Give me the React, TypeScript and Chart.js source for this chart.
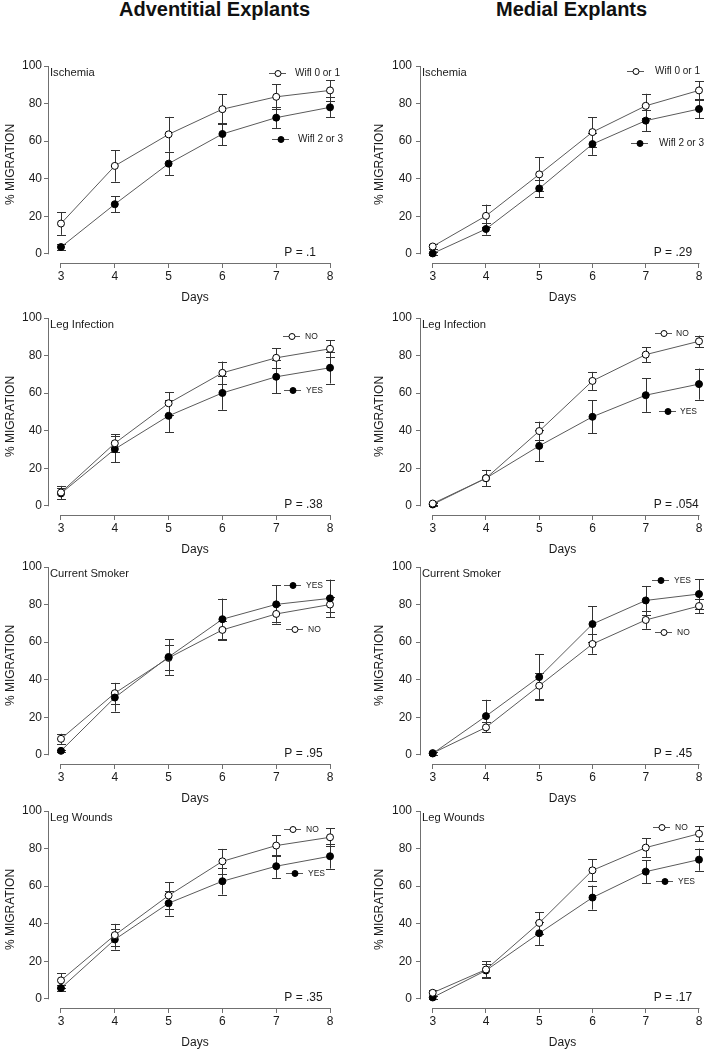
import React, { useEffect, useRef } from "react";
import { Chart, registerables } from "chart.js";

Chart.register(...registerables);

// ---------- data ----------
const days = [3, 4, 5, 6, 7, 8];
const yTickValues = [0, 20, 40, 60, 80, 100];
const xTickValues = [3, 4, 5, 6, 7, 8];

// Adventitial – Ischemia
const advIschemiaLow = [16.1, 46.8, 63.6, 77.0, 83.6, 87.0];
const advIschemiaLowErr = [6.0, 8.4, 9.3, 8.0, 6.6, 5.5];
const advIschemiaHigh = [3.6, 26.4, 48.0, 63.8, 72.5, 78.0];
const advIschemiaHighErr = [1.5, 4.3, 6.0, 6.0, 5.5, 5.4];
// Medial – Ischemia
const medIschemiaLow = [3.9, 20.2, 42.3, 64.8, 78.8, 87.0];
const medIschemiaLowErr = [1.5, 6.0, 9.0, 8.0, 6.4, 4.8];
const medIschemiaHigh = [0.2, 13.2, 34.8, 58.4, 70.9, 77.1];
const medIschemiaHighErr = [0.8, 3.0, 4.6, 5.7, 5.5, 5.0];
// Adventitial – Leg Infection
const advInfectionNo = [7.1, 33.3, 54.6, 70.8, 78.8, 83.6];
const advInfectionNoErr = [3.5, 4.8, 6.0, 6.0, 5.2, 4.6];
const advInfectionYes = [6.6, 30.2, 47.9, 60.1, 68.7, 73.5];
const advInfectionYesErr = [3.0, 7.0, 8.6, 9.0, 8.7, 8.4];
// Medial – Leg Infection
const medInfectionNo = [1.2, 14.7, 39.8, 66.5, 80.5, 87.6];
const medInfectionNoErr = [1.0, 4.4, 5.0, 4.8, 4.0, 3.0];
const medInfectionYes = [0.7, 14.7, 31.9, 47.4, 58.9, 64.8];
const medInfectionYesErr = [0.6, 4.4, 8.2, 8.8, 8.9, 8.3];
// Adventitial – Current Smoker
const advSmokerYes = [2.1, 30.5, 52.1, 72.2, 80.1, 83.3];
const advSmokerYesErr = [0.5, 7.5, 9.5, 11.0, 10.2, 10.0];
const advSmokerNo = [8.5, 32.8, 51.6, 66.5, 75.0, 80.0];
const advSmokerNoErr = [2.7, 5.5, 6.7, 5.0, 4.5, 4.0];
// Medial – Current Smoker
const medSmokerYes = [0.7, 20.6, 41.4, 69.6, 82.2, 85.6];
const medSmokerYesErr = [0.8, 8.7, 12.2, 9.6, 7.7, 8.0];
const medSmokerNo = [0.9, 14.6, 36.8, 59.0, 71.8, 79.2];
const medSmokerNoErr = [0.8, 2.7, 7.0, 5.2, 4.7, 3.7];
// Adventitial – Leg Wounds
const advWoundsNo = [9.8, 33.9, 55.0, 73.2, 81.6, 86.0];
const advWoundsNoErr = [3.9, 6.0, 7.0, 6.6, 5.5, 4.8];
const advWoundsYes = [5.7, 31.6, 50.9, 62.6, 70.6, 75.9];
const advWoundsYesErr = [1.8, 5.4, 6.6, 7.1, 6.2, 6.6];
// Medial – Leg Wounds
const medWoundsNo = [3.2, 15.6, 40.4, 68.4, 80.5, 87.9];
const medWoundsNoErr = [1.5, 4.3, 5.7, 5.9, 5.1, 4.1];
const medWoundsYes = [0.7, 15.1, 34.9, 53.9, 67.7, 74.1];
const medWoundsYesErr = [0.6, 3.6, 6.2, 6.4, 6.2, 5.9];

const columnTitles = ["Adventitial Explants", "Medial Explants"];

// ---------- panel descriptions ----------
type Series = {
  label: string;
  values: number[];
  errors: number[];
  filled: boolean;
  leg: { x: number; y: number };
};
type Panel = {
  title: string;
  p: string;
  col: number;
  row: number;
  legendFont: number;
  legendTextGap: number;
  series: Series[];
};

const panels: Panel[] = [
  {
    title: "Ischemia", p: "P = .1", col: 0, row: 0, legendFont: 10, legendTextGap: 17,
    series: [
      { label: "Wifl 0 or 1", values: advIschemiaLow, errors: advIschemiaLowErr, filled: false, leg: { x: 229, y: 7 } },
      { label: "Wifl 2 or 3", values: advIschemiaHigh, errors: advIschemiaHighErr, filled: true, leg: { x: 232, y: 73 } },
    ],
  },
  {
    title: "Ischemia", p: "P = .29", col: 1, row: 0, legendFont: 10, legendTextGap: 19,
    series: [
      { label: "Wifl 0 or 1", values: medIschemiaLow, errors: medIschemiaLowErr, filled: false, leg: { x: 215, y: 5 } },
      { label: "Wifl 2 or 3", values: medIschemiaHigh, errors: medIschemiaHighErr, filled: true, leg: { x: 219, y: 77 } },
    ],
  },
  {
    title: "Leg Infection", p: "P = .38", col: 0, row: 1, legendFont: 8.5, legendTextGap: 13,
    series: [
      { label: "NO", values: advInfectionNo, errors: advInfectionNoErr, filled: false, leg: { x: 243, y: 18 } },
      { label: "YES", values: advInfectionYes, errors: advInfectionYesErr, filled: true, leg: { x: 244, y: 72 } },
    ],
  },
  {
    title: "Leg Infection", p: "P = .054", col: 1, row: 1, legendFont: 8.5, legendTextGap: 12,
    series: [
      { label: "NO", values: medInfectionNo, errors: medInfectionNoErr, filled: false, leg: { x: 243, y: 15 } },
      { label: "YES", values: medInfectionYes, errors: medInfectionYesErr, filled: true, leg: { x: 247, y: 93 } },
    ],
  },
  {
    title: "Current Smoker", p: "P = .95", col: 0, row: 2, legendFont: 8.5, legendTextGap: 13,
    series: [
      { label: "YES", values: advSmokerYes, errors: advSmokerYesErr, filled: true, leg: { x: 244, y: 18 } },
      { label: "NO", values: advSmokerNo, errors: advSmokerNoErr, filled: false, leg: { x: 246, y: 62 } },
    ],
  },
  {
    title: "Current Smoker", p: "P = .45", col: 1, row: 2, legendFont: 8.5, legendTextGap: 13,
    series: [
      { label: "YES", values: medSmokerYes, errors: medSmokerYesErr, filled: true, leg: { x: 240, y: 13 } },
      { label: "NO", values: medSmokerNo, errors: medSmokerNoErr, filled: false, leg: { x: 243, y: 65 } },
    ],
  },
  {
    title: "Leg Wounds", p: "P = .35", col: 0, row: 3, legendFont: 8.5, legendTextGap: 13,
    series: [
      { label: "NO", values: advWoundsNo, errors: advWoundsNoErr, filled: false, leg: { x: 244, y: 18 } },
      { label: "YES", values: advWoundsYes, errors: advWoundsYesErr, filled: true, leg: { x: 246, y: 62 } },
    ],
  },
  {
    title: "Leg Wounds", p: "P = .17", col: 1, row: 3, legendFont: 8.5, legendTextGap: 13,
    series: [
      { label: "NO", values: medWoundsNo, errors: medWoundsNoErr, filled: false, leg: { x: 241, y: 16 } },
      { label: "YES", values: medWoundsYes, errors: medWoundsYesErr, filled: true, leg: { x: 244, y: 70 } },
    ],
  },
];

// ---------- layout ----------
const FONT = '"Liberation Sans", Arial, Helvetica, sans-serif';
const TEXT = "#1a1a1a";
const AXIS = "#707070";
const rowTops = [52, 304, 553, 797];
const CANVAS_H = 253;
const PAD_TOP = 14;
const XSCALE_H = 42;
const colLayout = [
  { left: 0, width: 354, yAxisW: 49, padRight: 13, xMin: 2.777, xMax: 8.204, tickPad: 2, titlePad: 3 },
  { left: 354, width: 355, yAxisW: 67, padRight: 5, xMin: 2.78, xMax: 8.094, tickPad: 4, titlePad: 18 },
];

const errorBarPlugin = {
  id: "errorBars",
  beforeDatasetsDraw(chart: any) {
    const ctx = chart.ctx;
    const xs = chart.scales.x;
    const ys = chart.scales.y;
    ctx.save();
    ctx.strokeStyle = "#333";
    ctx.lineWidth = 1;
    chart.data.datasets.forEach((ds: any) => {
      const errs: number[] = ds.errorValues || [];
      ds.data.forEach((pt: any, j: number) => {
        const e = errs[j] || 0;
        if (e <= 0) return;
        const x = Math.round(xs.getPixelForValue(pt.x)) + 0.5;
        const yTop = ys.getPixelForValue(pt.y + e);
        const yBot = ys.getPixelForValue(pt.y - e);
        ctx.beginPath();
        ctx.moveTo(x, yTop);
        ctx.lineTo(x, yBot);
        ctx.moveTo(x - 4.5, Math.round(yTop) + 0.5);
        ctx.lineTo(x + 4.5, Math.round(yTop) + 0.5);
        ctx.moveTo(x - 4.5, Math.round(yBot) + 0.5);
        ctx.lineTo(x + 4.5, Math.round(yBot) + 0.5);
        ctx.stroke();
      });
    });
    ctx.restore();
  },
};

const axisLinePlugin = {
  id: "axisLines",
  beforeDraw(chart: any) {
    const ctx = chart.ctx;
    const xs = chart.scales.x;
    const ys = chart.scales.y;
    const area = chart.chartArea;
    ctx.save();
    ctx.strokeStyle = AXIS;
    ctx.lineWidth = 1;
    const ax = Math.round(area.left) - 0.5;
    ctx.beginPath();
    ctx.moveTo(ax, ys.getPixelForValue(yTickValues[0]) + 0.5);
    ctx.lineTo(ax, ys.getPixelForValue(yTickValues[yTickValues.length - 1]));
    const ay = Math.round(area.bottom) + 0.5;
    ctx.moveTo(xs.getPixelForValue(xTickValues[0]), ay);
    ctx.lineTo(xs.getPixelForValue(xTickValues[xTickValues.length - 1]) + 0.5, ay);
    ctx.stroke();
    ctx.restore();
  },
};

const annotationPlugin = {
  id: "panelText",
  afterDatasetsDraw(chart: any) {
    const panel: Panel = chart.options.plugins.panelText.panel;
    const ctx = chart.ctx;
    const area = chart.chartArea;
    const xs = chart.scales.x;
    const ys = chart.scales.y;
    ctx.save();
    ctx.fillStyle = TEXT;
    ctx.font = `11.2px ${FONT}`;
    ctx.textAlign = "left";
    ctx.textBaseline = "middle";
    ctx.fillText(panel.title, area.left + 1, area.top + 7);
    ctx.font = `12px ${FONT}`;
    ctx.fillText(panel.p, xs.getPixelForValue(7.15), ys.getPixelForValue(0.8));
    panel.series.forEach((s) => {
      const mx = area.left + s.leg.x;
      const my = area.top + s.leg.y;
      ctx.strokeStyle = "#555";
      ctx.lineWidth = 1;
      ctx.beginPath();
      ctx.moveTo(mx - 9, Math.round(my) + 0.5);
      ctx.lineTo(mx + 8, Math.round(my) + 0.5);
      ctx.stroke();
      ctx.beginPath();
      ctx.arc(mx, Math.round(my) + 0.5, 3, 0, Math.PI * 2);
      ctx.fillStyle = s.filled ? "#000" : "#fff";
      ctx.fill();
      ctx.strokeStyle = "#000";
      ctx.stroke();
      ctx.fillStyle = TEXT;
      ctx.font = `${panel.legendFont}px ${FONT}`;
      ctx.fillText(s.label, mx + panel.legendTextGap, my + 0.5);
    });
    ctx.restore();
  },
};

function PanelChart({ panel }: { panel: Panel }) {
  const ref = useRef<HTMLCanvasElement | null>(null);
  const L = colLayout[panel.col];
  useEffect(() => {
    if (!ref.current) return;
    const datasets = panel.series.map((s) => ({
      label: s.label,
      data: s.values.map((v, i) => ({ x: days[i], y: v })),
      errorValues: s.errors,
      borderColor: "#5a5a5a",
      borderWidth: 1,
      pointRadius: 3.5,
      pointBorderWidth: 1,
      pointBackgroundColor: s.filled ? "#000" : "#fff",
      pointBorderColor: "#000",
      tension: 0,
      fill: false,
      clip: false as any,
    }));
    const chart = new Chart(ref.current, {
      type: "line",
      data: { datasets: datasets as any },
      plugins: [axisLinePlugin, errorBarPlugin, annotationPlugin],
      options: {
        animation: false,
        responsive: false,
        events: [],
        layout: { padding: { top: PAD_TOP, left: 0, right: L.padRight, bottom: 0 } },
        plugins: {
          legend: { display: false },
          tooltip: { enabled: false },
          panelText: { panel } as any,
        } as any,
        scales: {
          x: {
            type: "linear",
            min: L.xMin,
            max: L.xMax,
            afterBuildTicks: (scale: any) => {
              scale.ticks = xTickValues.map((v) => ({ value: v }));
            },
            afterFit: (scale: any) => {
              scale.height = XSCALE_H;
            },
            grid: { drawOnChartArea: false, drawTicks: true, tickLength: 5, color: AXIS, lineWidth: 1 },
            border: { display: false },
            ticks: { color: TEXT, font: { family: FONT, size: 12 }, padding: 1, maxRotation: 0, autoSkip: false },
            title: { display: true, text: "Days", color: TEXT, font: { family: FONT, size: 12 }, padding: { top: 0, bottom: 0 } },
          },
          y: {
            type: "linear",
            min: -4.9,
            max: 100,
            afterBuildTicks: (scale: any) => {
              scale.ticks = yTickValues.map((v) => ({ value: v }));
            },
            afterFit: (scale: any) => {
              scale.width = L.yAxisW;
            },
            grid: { drawOnChartArea: false, drawTicks: true, tickLength: 5, color: AXIS, lineWidth: 1 },
            border: { display: false },
            ticks: { color: TEXT, font: { family: FONT, size: 12 }, padding: L.tickPad, autoSkip: false },
            title: { display: true, text: "% MIGRATION", color: TEXT, font: { family: FONT, size: 12 }, padding: { top: L.titlePad, bottom: 0 } },
          },
        },
      } as any,
    });
    return () => chart.destroy();
  }, [panel]);
  return (
    <canvas
      ref={ref}
      width={L.width}
      height={CANVAS_H}
      style={{ position: "absolute", left: L.left, top: rowTops[panel.row], width: L.width, height: CANVAS_H }}
    />
  );
}

export default function App() {
  return (
    <div
      style={{
        position: "absolute",
        left: 0,
        top: 0,
        width: 709,
        height: 1050,
        overflow: "hidden",
        background: "#fff",
      }}
    >
      {columnTitles.map((t, i) => (
        <div
          key={t}
          style={{
            position: "absolute",
            left: i === 0 ? 119 : 496,
            top: -1.5,
            fontFamily: FONT,
            fontWeight: "bold",
            fontSize: 20,
            lineHeight: "20px",
            color: "#111",
            whiteSpace: "nowrap",
          }}
        >
          {t}
        </div>
      ))}
      {panels.map((p, i) => (
        <PanelChart key={i} panel={p} />
      ))}
    </div>
  );
}
